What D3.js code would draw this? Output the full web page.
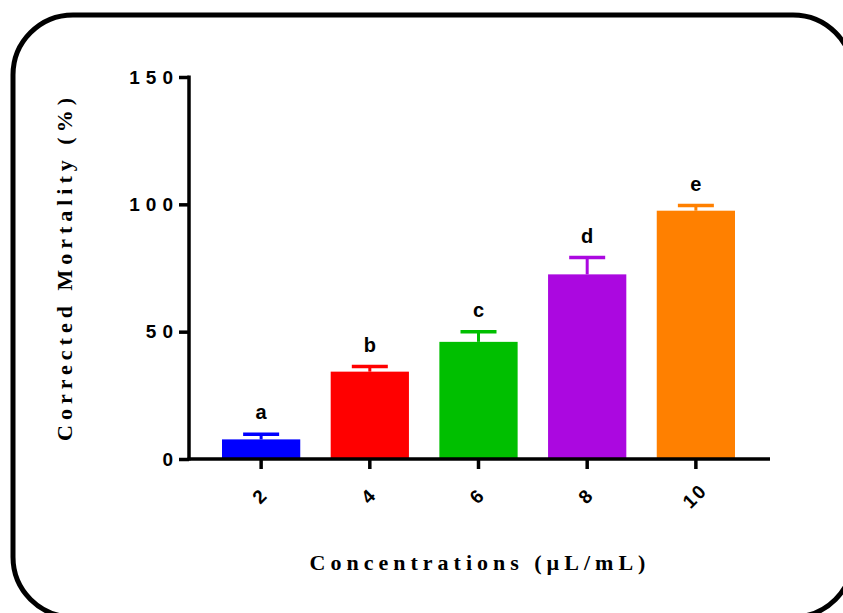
<!DOCTYPE html>
<html>
<head>
<meta charset="utf-8">
<script src="https://cdn.jsdelivr.net/npm/d3@7/dist/d3.min.js"></script>
<style>
html,body{margin:0;padding:0;background:#fff;}
svg{display:block;}
</style>
</head>
<body>
<svg id="chart" width="843" height="613"></svg>
<script>
const categories = ["2", "4", "6", "8", "10"];
const means = [7.7, 34.3, 46.0, 72.5, 97.5];
const errors = [2.0, 2.0, 4.0, 6.6, 2.0];
const letters = ["a", "b", "c", "d", "e"];
const colors = ["#0000ff", "#ff0000", "#00bf00", "#ab08e0", "#ff8000"];
const yTicks = [0, 50, 100, 150];

const svg = d3.select("#chart");

// rounded frame
svg.append("rect")
  .attr("x", 13).attr("y", 15)
  .attr("width", 840).attr("height", 602)
  .attr("rx", 60).attr("ry", 60)
  .attr("fill", "none").attr("stroke", "#000").attr("stroke-width", 5);

const y = d3.scaleLinear().domain([0, 150]).range([459, 77]);
const x = d3.scaleBand().domain(categories).range([222, 735]).paddingInner(0.28).paddingOuter(0);

const g = svg.append("g");

// bars
g.selectAll("rect.bar").data(categories).enter().append("rect")
  .attr("class", "bar")
  .attr("x", d => x(d))
  .attr("width", x.bandwidth())
  .attr("y", (d, i) => y(means[i]))
  .attr("height", (d, i) => y(0) - y(means[i]))
  .attr("fill", (d, i) => colors[i]);

// error bars
const capW = 36;
categories.forEach((d, i) => {
  const cx = x(d) + x.bandwidth() / 2;
  g.append("line")
    .attr("x1", cx).attr("x2", cx)
    .attr("y1", y(means[i])).attr("y2", y(means[i] + errors[i]))
    .attr("stroke", colors[i]).attr("stroke-width", 3);
  g.append("line")
    .attr("x1", cx - capW / 2).attr("x2", cx + capW / 2)
    .attr("y1", y(means[i] + errors[i])).attr("y2", y(means[i] + errors[i]))
    .attr("stroke", colors[i]).attr("stroke-width", 3.5);
  g.append("text")
    .attr("x", cx).attr("y", y(means[i] + errors[i]) - 15)
    .attr("text-anchor", "middle")
    .attr("font-family", "Liberation Sans, Arial, sans-serif")
    .attr("font-weight", "bold").attr("font-size", 20)
    .attr("fill", "#000")
    .text(letters[i]);
});

// y axis
const yAxis = d3.axisLeft(y).tickValues(yTicks).tickSize(10).tickPadding(6).tickFormat(d3.format("d"));
const ya = svg.append("g").attr("transform", "translate(189,0)").call(yAxis);
ya.select(".domain").attr("stroke", "#000").attr("stroke-width", 3.5).attr("d", "M0," + (y(0)+1.5) + "V" + (y(150)-1.5));
ya.selectAll(".tick line").attr("stroke", "#000").attr("stroke-width", 3.5);
ya.selectAll(".tick text")
  .attr("font-family", "Liberation Sans, Arial, sans-serif")
  .attr("font-weight", "bold").attr("font-size", 19)
  .attr("letter-spacing", 6)
  .attr("dx", 6)
  .attr("fill", "#000");

// x axis
const xAxis = d3.axisBottom(x).tickSize(10).tickSizeOuter(0).tickFormat("");
const xa = svg.append("g").attr("transform", "translate(0," + y(0) + ")").call(xAxis);
xa.select(".domain").attr("stroke", "#000").attr("stroke-width", 3.5).attr("d", "M187.5,0H770");
xa.selectAll(".tick line").attr("stroke", "#000").attr("stroke-width", 3.5);
xa.selectAll(".tick").append("text")
  .attr("transform", "translate(0,38) rotate(-45)")
  .attr("text-anchor", "middle")
  .attr("dominant-baseline", "middle")
  .attr("font-family", "Liberation Sans, Arial, sans-serif")
  .attr("font-weight", "bold").attr("font-size", 19)
  .attr("letter-spacing", 2)
  .attr("fill", "#000")
  .text(d => d);

// axis titles
svg.append("text")
  .attr("x", 480).attr("y", 570)
  .attr("text-anchor", "middle")
  .attr("font-family", "Liberation Serif, Times New Roman, serif")
  .attr("font-weight", "bold").attr("font-size", 22)
  .attr("letter-spacing", 5)
  .attr("fill", "#000")
  .text("Concentrations (µL/mL)");

svg.append("text")
  .attr("transform", "translate(72,267) rotate(-90)")
  .attr("text-anchor", "middle")
  .attr("font-family", "Liberation Serif, Times New Roman, serif")
  .attr("font-weight", "bold").attr("font-size", 22)
  .attr("letter-spacing", 5)
  .attr("fill", "#000")
  .text("Corrected Mortality (%)");
</script>
</body>
</html>
